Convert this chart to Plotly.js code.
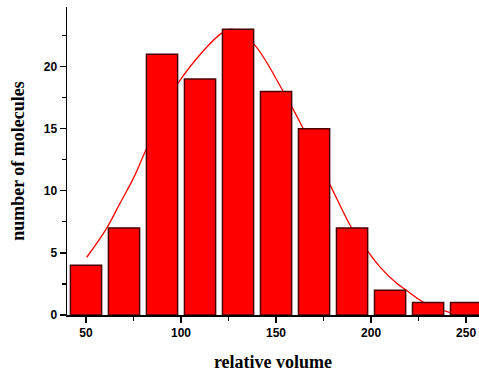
<!DOCTYPE html>
<html>
<head>
<meta charset="utf-8">
<script src="https://cdn.plot.ly/plotly-3.0.1.min.js"></script>
<style>html,body{margin:0;padding:0;background:#fff}#chart{width:479px;height:373px}</style>
</head>
<body>
<div id="chart"></div>
<script>
// histogram data
const binCenters = [50, 70, 90, 110, 130, 150, 170, 190, 210, 230, 250];
const counts = [4, 7, 21, 19, 23, 18, 15, 7, 2, 1, 1];
// fitted curve
const fitX = [50.4, 60.9, 67.9, 74.9, 81.9, 98.6, 122.3, 127, 138.1, 153.8, 164.4, 178.4, 189.8, 197.7, 204.5, 213.5, 217.9, 228, 241.6];
const fitY = [4.65, 7.0, 9.0, 11.0, 13.4, 18.7, 22.8, 23.0, 21.85, 18.0, 14.97, 10.5, 7.0, 5.24, 3.9, 2.55, 2.07, 0.99, 0.19];
// axis labels
const xTitle = 'relative volume';
const yTitle = 'number of molecules';

const xRange = [40, 256.8];
const yRange = [0, 24.8];

const traces = [
  {
    type: 'scatter', mode: 'lines', x: fitX, y: fitY,
    line: {color: '#ff0000', width: 1.3, shape: 'spline', smoothing: 1},
    xaxis: 'x', yaxis: 'y', hoverinfo: 'skip'
  },
  {
    type: 'bar', x: binCenters, y: counts,
    marker: {color: '#ff0000', line: {color: '#4a0000', width: 1.5}},
    xaxis: 'x2', yaxis: 'y2'
  }
];

const tickFont = {family: 'Liberation Sans, Arial, sans-serif', size: 12, color: '#000', weight: 'bold'};
const titleFont = {family: 'Liberation Serif, Times New Roman, serif', size: 18, color: '#000', weight: 'bold'};

const layout = {
  width: 479, height: 373,
  margin: {l: 67, r: 0, t: 7, b: 58},
  paper_bgcolor: '#fff', plot_bgcolor: 'rgba(0,0,0,0)',
  showlegend: false,
  bargap: 0.18,
  xaxis: {
    range: xRange, showgrid: false, zeroline: false,
    showline: true, linecolor: '#000', linewidth: 1.5,
    ticks: 'outside', ticklen: 6, tickwidth: 1.2, tickcolor: '#000',
    tick0: 0, dtick: 50,
    minor: {ticks: 'outside', ticklen: 4, tickwidth: 1.2, tickcolor: '#000', dtick: 25, showgrid: false},
    tickfont: tickFont,
    title: {text: xTitle, font: titleFont, standoff: 16},
    fixedrange: true
  },
  yaxis: {
    range: yRange, showgrid: false, zeroline: false,
    showline: true, linecolor: '#000', linewidth: 1.5,
    ticks: 'outside', ticklen: 6, tickwidth: 1.2, tickcolor: '#000',
    tick0: 0, dtick: 5,
    minor: {ticks: 'outside', ticklen: 4, tickwidth: 1.2, tickcolor: '#000', dtick: 2.5, showgrid: false},
    tickfont: tickFont,
    title: {text: yTitle, font: titleFont, standoff: 14},
    fixedrange: true
  },
  xaxis2: {range: xRange, overlaying: 'x', visible: false, fixedrange: true},
  yaxis2: {range: yRange, overlaying: 'y', visible: false, fixedrange: true}
};

Plotly.newPlot('chart', traces, layout, {displayModeBar: false, staticPlot: true});
</script>
</body>
</html>
